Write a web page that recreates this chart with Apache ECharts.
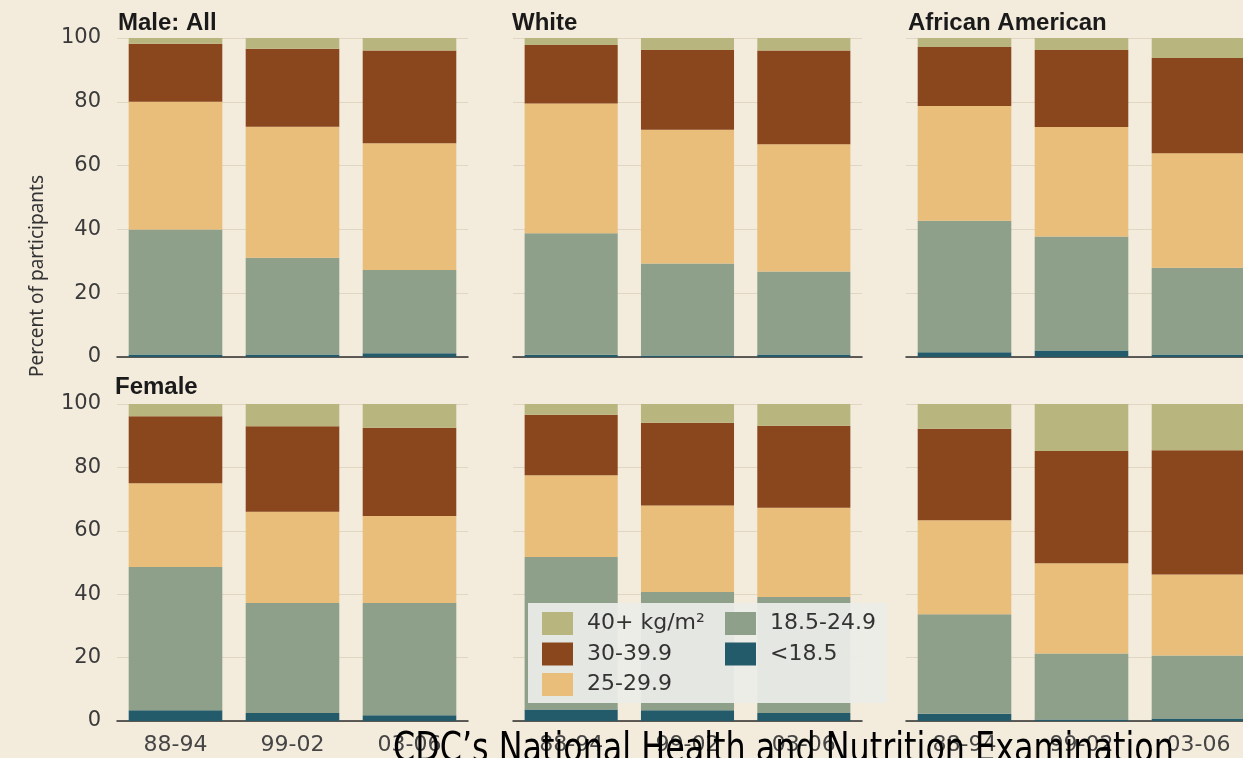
<!DOCTYPE html>
<html>
<head>
<meta charset="utf-8">
<script src="https://cdn.jsdelivr.net/npm/echarts@6/dist/echarts.min.js"></script>
<style>
  html, body { margin: 0; padding: 0; background: #f3ebdc; }
  #chart { width: 1243px; height: 758px; }
</style>
</head>
<body>
<div id="chart"></div>
<script>
// Survey periods on the x axis
const periods = ['88-94', '99-02', '03-06'];
// BMI classes, stacked bottom to top
const bmiClasses = ['<18.5', '18.5-24.9', '25-29.9', '30-39.9', '40+ kg/m²'];
const yTicks = [0, 20, 40, 60, 80, 100];

// Percent of participants per class (rows follow bmiClasses), one value per period
const maleAll = [
  [0.8, 0.8, 1.2],
  [39.2, 30.3, 26.1],
  [40.0, 41.1, 39.7],
  [18.2, 24.4, 29.1],
  [1.8, 3.4, 3.9]
];
const maleWhite = [
  [0.7, 0.5, 0.8],
  [38.1, 28.8, 26.0],
  [40.7, 41.9, 39.9],
  [18.3, 25.0, 29.4],
  [2.2, 3.8, 3.9]
];
const maleAfricanAmerican = [
  [1.5, 2.0, 0.8],
  [41.2, 35.8, 27.2],
  [36.0, 34.3, 35.9],
  [18.5, 24.1, 29.8],
  [2.8, 3.8, 6.3]
];
const femaleAll = [
  [3.4, 2.5, 1.8],
  [45.2, 34.7, 35.4],
  [26.4, 28.8, 27.5],
  [21.1, 27.0, 27.8],
  [3.9, 7.0, 7.5]
];
const femaleWhite = [
  [3.6, 3.4, 2.5],
  [48.1, 37.3, 36.6],
  [25.8, 27.3, 28.2],
  [19.1, 26.1, 25.8],
  [3.4, 5.9, 6.9]
];
const femaleAfricanAmerican = [
  [2.3, 0.5, 0.8],
  [31.4, 20.8, 19.9],
  [29.6, 28.5, 25.5],
  [28.9, 35.4, 39.2],
  [7.8, 14.8, 14.6]
];

const classColors = ['#245b6b', '#8e9f8a', '#e9bd7a', '#8a461d', '#b9b57e'];

// Panel layout: three columns, two rows (male on top, female below)
const columns = [{ left: 117, width: 351 }, { left: 513, width: 349 }, { left: 906, width: 351 }];
const rows = [{ top: 38, height: 319 }, { top: 404, height: 317 }];
const panelData = [maleAll, maleWhite, maleAfricanAmerican, femaleAll, femaleWhite, femaleAfricanAmerican];

const grids = [], xAxes = [], yAxes = [], series = [];
panelData.forEach((values, p) => {
  const r = Math.floor(p / 3), c = p % 3;
  grids.push({
    left: columns[c].left, width: columns[c].width, top: rows[r].top, height: rows[r].height,
    outerBoundsMode: 'none', containLabel: false
  });
  xAxes.push({
    type: 'category', gridIndex: p, data: periods,
    axisTick: { show: false },
    axisLine: { lineStyle: { color: '#2e2e2e', width: 1.5 } },
    axisLabel: { show: r === 1, margin: 13, fontFamily: 'DejaVu Sans', fontSize: 22, color: '#454545' }
  });
  yAxes.push({
    type: 'value', gridIndex: p, min: 0, max: 100, interval: 20,
    axisLine: { show: false }, axisTick: { show: false },
    splitLine: { lineStyle: { color: '#e0d6c2', width: 1 } },
    axisLabel: {
      show: c === 0, margin: 16, fontFamily: 'DejaVu Sans', fontSize: 21, color: '#3a3a3a',
      formatter: v => (yTicks.includes(v) ? String(v) : '')
    }
  });
  values.forEach((vals, k) => {
    series.push({
      type: 'bar', name: bmiClasses[k], xAxisIndex: p, yAxisIndex: p, stack: 'panel' + p,
      data: vals, barCategoryGap: '20%',
      itemStyle: { color: classColors[k] },
      emphasis: { disabled: true }
    });
  });
});

const panelTitle = (text, x, y) => ({
  type: 'text', x: x, y: y, z: 30,
  style: { text: text, fontFamily: 'Liberation Sans', fontWeight: 'bold', fontSize: 24, fill: '#1a1a1a', align: 'left', verticalAlign: 'middle' }
});

const legendText = { fontFamily: 'DejaVu Sans', fontSize: 22, color: '#333', lineHeight: 23, padding: [0, 0, 0, 9] };

const option = {
  backgroundColor: '#f3ebdc',
  animation: false,
  grid: grids,
  xAxis: xAxes,
  yAxis: yAxes,
  series: series,
  legend: [
    {
      orient: 'vertical', left: 542, top: 612, z: 20, itemWidth: 31, itemHeight: 23, itemGap: 7.5,
      icon: 'rect', selectedMode: false, padding: 0,
      data: ['40+ kg/m²', '30-39.9', '25-29.9'], textStyle: legendText
    },
    {
      orient: 'vertical', left: 725, top: 612, z: 20, itemWidth: 31, itemHeight: 23, itemGap: 7.5,
      icon: 'rect', selectedMode: false, padding: 0,
      data: ['18.5-24.9', '<18.5'], textStyle: legendText
    }
  ],
  graphic: [
    // legend panel backdrop
    { type: 'rect', z: 10, shape: { x: 528, y: 603, width: 359, height: 100 }, style: { fill: 'rgba(236,237,232,0.93)' } },
    panelTitle('Male: All', 118, 23),
    panelTitle('White', 512, 23),
    panelTitle('African American', 908, 23),
    panelTitle('Female', 115, 387),
    {
      type: 'text', x: 38, y: 276, rotation: Math.PI / 2, z: 30,
      style: { text: 'Percent of participants', fontFamily: 'Noto Sans', fontSize: 19, fill: '#333', align: 'center', verticalAlign: 'middle' }
    },
    {
      type: 'text', x: 393, y: 751, scaleX: 0.795, z: 40,
      style: { text: 'CDC’s National Health and Nutrition Examination', fontFamily: 'DejaVu Sans', fontSize: 40, fill: '#000', align: 'left', verticalAlign: 'middle' }
    }
  ]
};

const chart = echarts.init(document.getElementById('chart'), null, { renderer: 'canvas' });
chart.setOption(option);
</script>
</body>
</html>
